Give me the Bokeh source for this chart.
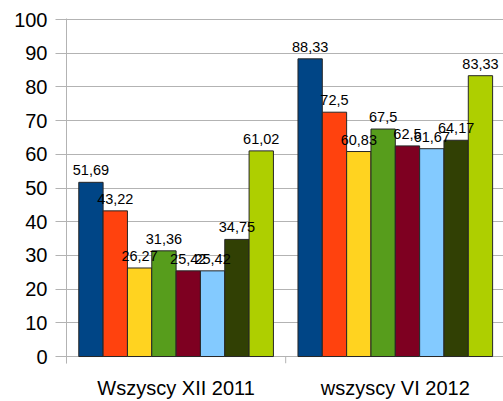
from bokeh.plotting import figure
from bokeh.models import ColumnDataSource, FixedTicker, Range1d
from bokeh.embed import file_html
from bokeh.resources import INLINE
from bokeh.core.properties import value

groups = ["Wszyscy XII 2011", "wszyscy VI 2012"]
series_colors = ["#004586", "#ff420e", "#ffd320", "#579d1c",
                 "#7e0021", "#83caff", "#314004", "#aecf00"]
values_2011 = [51.69, 43.22, 26.27, 31.36, 25.42, 25.42, 34.75, 61.02]
values_2012 = [88.33, 72.5, 60.83, 67.5, 62.5, 61.67, 64.17, 83.33]
y_ticks = [0, 10, 20, 30, 40, 50, 60, 70, 80, 90, 100]

FONT = "Liberation Sans"
GRID = "#b3b3b3"
bw = 0.111
nser = len(series_colors)
Y0 = -2.07

xs, tops, cols, labels = [], [], [], []
for g, vals in enumerate([values_2011, values_2012]):
    for j, v in enumerate(vals):
        xs.append(g + 0.5 + (j - (nser - 1) / 2) * bw)
        tops.append(v)
        cols.append(series_colors[j])
        labels.append(("%g" % v).replace(".", ","))

src = ColumnDataSource(dict(x=xs, top=tops, color=cols, label=labels))

p = figure(width=503, height=401, output_backend="svg", toolbar_location=None,
           x_range=Range1d(0, (503 - 66) / 219.2), y_range=Range1d(Y0, 100.3),
           min_border_left=66, min_border_right=0, min_border_top=18,
           min_border_bottom=0)
p.outline_line_color = None
p.background_fill_color = "white"
p.border_fill_color = "white"

p.vbar(x="x", top="top", bottom=0, width=bw, source=src, fill_color="color",
       line_color="#262626", line_width=1)
p.text(x="x", y="top", text="label", source=src, text_align="center",
       text_baseline="alphabetic", y_offset=-12, text_font=value(FONT),
       text_font_size="14.5px", text_color="black")

# category separator ticks below the zero line
ng = len(groups)
p.segment(x0=list(range(ng + 1)), x1=list(range(ng + 1)), y0=[Y0] * (ng + 1),
          y1=[0] * (ng + 1), line_color=GRID, line_width=1)

p.xgrid.visible = False
p.ygrid.ticker = FixedTicker(ticks=y_ticks)
p.ygrid.grid_line_color = GRID

ya = p.yaxis[0]
ya.ticker = FixedTicker(ticks=y_ticks)
ya.axis_line_color = GRID
ya.major_tick_line_color = GRID
ya.major_tick_out = 11
ya.major_tick_in = 0
ya.minor_tick_line_color = None
ya.major_label_standoff = 8
ya.major_label_text_font = FONT
ya.major_label_text_font_size = "20px"
ya.major_label_text_color = "black"

xa = p.xaxis[0]
xa.ticker = FixedTicker(ticks=[g + 0.5 for g in range(ng)])
xa.major_label_overrides = {g + 0.5: name for g, name in enumerate(groups)}
xa.axis_line_color = None
xa.major_tick_line_color = None
xa.minor_tick_line_color = None
xa.major_label_standoff = 7
xa.major_label_text_font = FONT
xa.major_label_text_font_size = "20px"
xa.major_label_text_color = "black"

open("out.html", "w").write(file_html(p, INLINE))
